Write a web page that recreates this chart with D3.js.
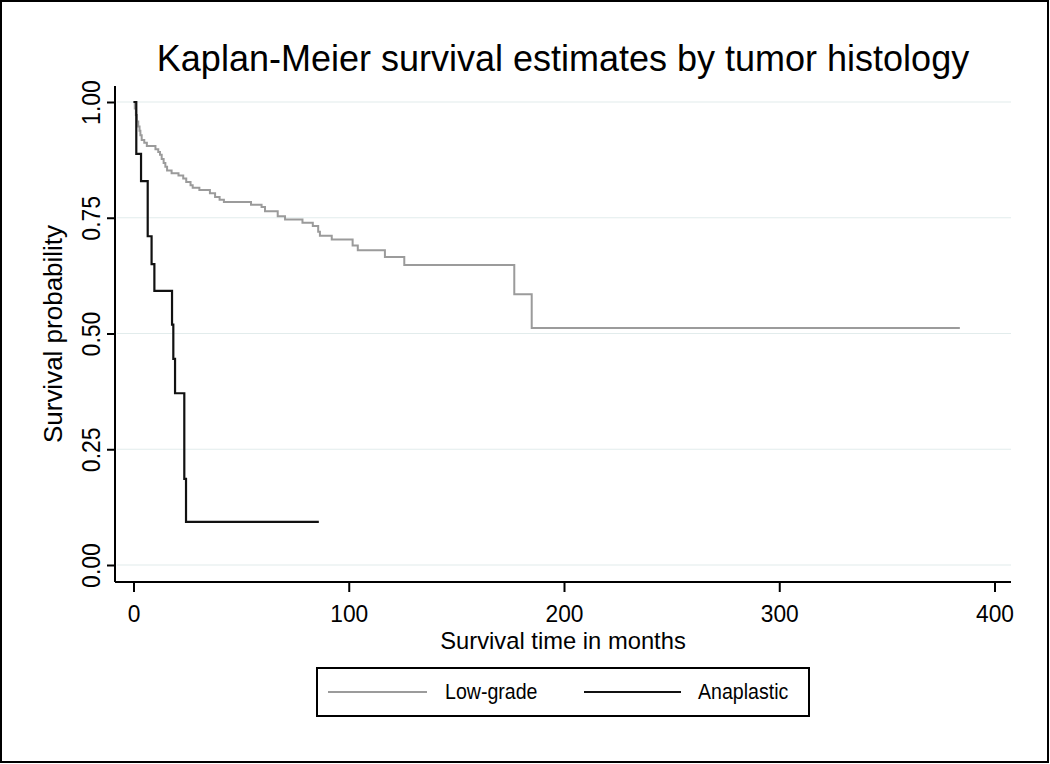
<!DOCTYPE html>
<html>
<head>
<meta charset="utf-8">
<script src="https://cdn.jsdelivr.net/npm/d3@7"></script>
<style>
  html, body { margin: 0; padding: 0; background: #fff; }
  svg { display: block; }
  text { font-family: "Liberation Sans", Arial, Helvetica, sans-serif; fill: #000; }
</style>
</head>
<body>
<svg id="chart" width="1050" height="764"></svg>
<script>
// ---------------- data ----------------
const titleText = "Kaplan-Meier survival estimates by tumor histology";
const xTitle = "Survival time in months";
const yTitle = "Survival probability";
const xTicks = [0, 100, 200, 300, 400];
const yTicks = [0, 0.25, 0.5, 0.75, 1];
const yTickLabels = ["0.00", "0.25", "0.50", "0.75", "1.00"];
const seriesNames = ["Low-grade", "Anaplastic"];

// Low-grade: step times (months) and survival after each step
const lowTimes = [0, 0.6, 1.1, 1.6, 2.2, 2.8, 3.2, 3.8, 5.0, 6.2, 10.2, 11.5, 12.3, 13.1, 14.0, 14.8, 15.6,
  17.7, 20.9, 23.1, 24.5, 26.5, 27.5, 30.6, 35.5, 37.9, 40.0, 42.0, 54.6, 59.5, 61.1, 67.0, 70.4,
  78.5, 83.3, 85.8, 86.6, 92.1, 101.8, 104.2, 116.8, 125.8, 176.9, 185.0, 383.9];
const lowSurv = [1.0, 0.986, 0.972, 0.958, 0.947, 0.938, 0.928, 0.918, 0.912, 0.905, 0.898, 0.892, 0.886, 0.877, 0.868, 0.860, 0.852,
  0.846, 0.841, 0.835, 0.827, 0.820, 0.815, 0.810, 0.803, 0.795, 0.789, 0.784, 0.778, 0.773, 0.764, 0.753, 0.746,
  0.739, 0.732, 0.720, 0.711, 0.703, 0.690, 0.680, 0.665, 0.648, 0.585, 0.512, 0.512];

// Anaplastic
const anaTimes = [0, 1.3, 3.5, 6.6, 8.4, 9.7, 17.9, 18.5, 19.3, 23.6, 24.4, 86.1];
const anaSurv  = [1.0, 0.888, 0.829, 0.710, 0.650, 0.592, 0.519, 0.445, 0.371, 0.186, 0.093, 0.093];

// ---------------- layout ----------------
const svg = d3.select("#chart");
const W = 1050, H = 764;
const plotLeft = 115, plotRight = 1011, plotTop = 86, plotBottom = 582;

const x = d3.scaleLinear().domain([0, 400]).range([133.5, 994.5]);
const y = d3.scaleLinear().domain([0, 1]).range([565, 102]);

// outer frame
svg.append("rect").attr("x", 1).attr("y", 1).attr("width", W - 3).attr("height", H - 3)
  .attr("fill", "#fff").attr("stroke", "#000").attr("stroke-width", 2);

// title
svg.append("text").attr("x", 563).attr("y", 71).attr("text-anchor", "middle")
  .style("font-size", "36px").text(titleText);

// gridlines
svg.append("g").selectAll("line").data(yTicks).join("line")
  .attr("x1", plotLeft + 2).attr("x2", plotRight)
  .attr("y1", d => y(d)).attr("y2", d => y(d))
  .attr("stroke", "#e2ecec").attr("stroke-width", 1.2);

// y axis
const yAxis = d3.axisLeft(y).tickValues(yTicks).tickSize(8).tickFormat((d, i) => yTickLabels[i]);
const gy = svg.append("g").attr("transform", `translate(${plotLeft},0)`).call(yAxis);
gy.select(".domain").attr("d", `M0,${plotTop}V${plotBottom}`).attr("stroke", "#000").attr("stroke-width", 2);
gy.selectAll(".tick line").attr("stroke", "#000").attr("stroke-width", 2);
gy.selectAll(".tick text")
  .attr("x", null).attr("dy", null)
  .attr("text-anchor", "middle")
  .attr("transform", "translate(-15,0) rotate(-90) scale(0.92,1)")
  .style("font-size", "25px").style("font-family", "'Liberation Sans', Arial, sans-serif").attr("fill", "#000");

// x axis
const xAxis = d3.axisBottom(x).tickValues(xTicks).tickSize(10).tickFormat(d3.format("d"));
const gx = svg.append("g").attr("transform", `translate(0,${plotBottom})`).call(xAxis);
gx.select(".domain").attr("d", `M${plotLeft},0H${plotRight}`).attr("stroke", "#000").attr("stroke-width", 2);
gx.selectAll(".tick line").attr("stroke", "#000").attr("stroke-width", 2);
gx.selectAll(".tick text")
  .attr("y", null).attr("dy", null)
  .attr("text-anchor", "middle")
  .attr("transform", "translate(0,40) scale(0.93,1)")
  .style("font-size", "24.5px").style("font-family", "'Liberation Sans', Arial, sans-serif").attr("fill", "#000");

// axis titles
svg.append("text").attr("text-anchor", "middle")
  .attr("transform", "translate(563,649) scale(0.97,1)")
  .style("font-size", "24.5px").text(xTitle);
svg.append("text").attr("text-anchor", "middle")
  .attr("transform", "translate(62,334) rotate(-90) scale(1.04,1)")
  .style("font-size", "25px").text(yTitle);

// curves
const line = d3.line().x(d => x(d[0])).y(d => y(d[1])).curve(d3.curveStepAfter);
const lowData = lowTimes.map((t, i) => [t, lowSurv[i]]);
const anaData = anaTimes.map((t, i) => [t, anaSurv[i]]);

svg.append("path").datum(lowData).attr("d", line)
  .attr("fill", "none").attr("stroke", "#9b9b9b").attr("stroke-width", 2);
svg.append("path").datum(anaData).attr("d", line)
  .attr("fill", "none").attr("stroke", "#111").attr("stroke-width", 2.2);

// legend
const lg = svg.append("g");
lg.append("rect").attr("x", 317).attr("y", 668).attr("width", 492).attr("height", 48)
  .attr("fill", "#fff").attr("stroke", "#000").attr("stroke-width", 2);
const legendItems = [
  { name: seriesNames[0], color: "#9b9b9b", x1: 328, x2: 427, tx: 445 },
  { name: seriesNames[1], color: "#111", x1: 584, x2: 681, tx: 698 }
];
legendItems.forEach(it => {
  lg.append("line").attr("x1", it.x1).attr("x2", it.x2).attr("y1", 692).attr("y2", 692)
    .attr("stroke", it.color).attr("stroke-width", 2);
  lg.append("text").attr("transform", `translate(${it.tx},699) scale(0.89,1)`)
    .style("font-size", "22px").text(it.name);
});
</script>
</body>
</html>
